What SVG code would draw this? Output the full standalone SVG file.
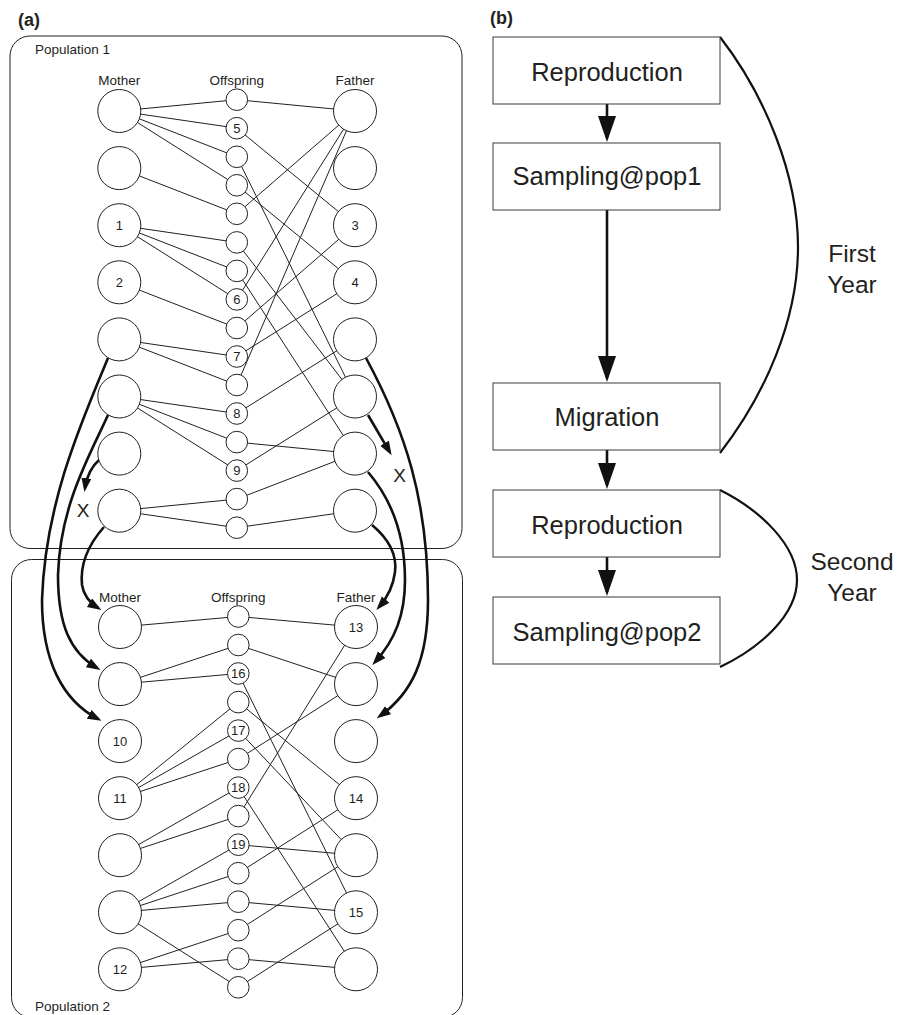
<svg xmlns="http://www.w3.org/2000/svg" width="909" height="1015" viewBox="0 0 909 1015">
<style>
text{font-family:"Liberation Sans",Arial,sans-serif;fill:#231f20}
.ttl{font-size:18px;font-weight:bold}
.hd{font-size:13.5px;text-anchor:middle}
.pop{font-size:13.5px}
.num{font-size:13px;text-anchor:middle}
.x{font-size:19px;text-anchor:middle}
.bx{font-size:25.5px;text-anchor:middle}
.yr{font-size:24.5px;text-anchor:middle}
.big{fill:#fff;stroke:#231f20;stroke-width:1}
.sm{fill:#fff;stroke:#231f20;stroke-width:1}
.frame{fill:none;stroke:#231f20;stroke-width:1}
.box{fill:#fff;stroke:#3a3a3a;stroke-width:1}
.ln{stroke:#231f20;stroke-width:1}
.mig{fill:none;stroke:#111;stroke-width:2.6;marker-end:url(#ah)}
.flow{fill:none;stroke:#111;stroke-width:2.6;marker-end:url(#ahb)}
.brk{fill:none;stroke:#111;stroke-width:2.2}
</style>
<defs>
<marker id="ah" markerUnits="userSpaceOnUse" markerWidth="16" markerHeight="12" refX="10" refY="5" orient="auto"><path d="M0,0 L14,5 L0,10 z" fill="#111"/></marker>
<marker id="ahb" markerUnits="userSpaceOnUse" markerWidth="28" markerHeight="20" refX="22" refY="9" orient="auto"><path d="M0,0 L26,9 L0,18 z" fill="#111"/></marker>
</defs>
<rect width="909" height="1015" fill="#fff"/>

<text class="ttl" x="18" y="26">(a)</text>
<text class="ttl" x="490" y="24">(b)</text>

<g id="population1">
<rect class="frame" x="10" y="36" width="452" height="512.5" rx="20"/>
<text class="pop" x="35" y="54">Population 1</text>
<text class="hd" x="119.3" y="85">Mother</text>
<text class="hd" x="236.8" y="85">Offspring</text>
<text class="hd" x="355" y="85">Father</text>
</g>
<g id="population2">
<rect class="frame" x="11.5" y="559.5" width="451" height="458" rx="20"/>
<text class="pop" x="35" y="1010.5">Population 2</text>
<text class="hd" x="120" y="602">Mother</text>
<text class="hd" x="238.3" y="602">Offspring</text>
<text class="hd" x="356" y="602">Father</text>
</g>

<g id="connectors">
<!-- population 1: mother - offspring -->
<line class="ln" x1="119.3" y1="111" x2="236.8" y2="99.7"/>
<line class="ln" x1="119.3" y1="111" x2="236.8" y2="128.2"/>
<line class="ln" x1="119.3" y1="111" x2="236.8" y2="156.8"/>
<line class="ln" x1="119.3" y1="111" x2="236.8" y2="185.3"/>
<line class="ln" x1="119.3" y1="168.1" x2="236.8" y2="213.8"/>
<line class="ln" x1="119.3" y1="225.2" x2="236.8" y2="242.4"/>
<line class="ln" x1="119.3" y1="225.2" x2="236.8" y2="270.9"/>
<line class="ln" x1="119.3" y1="225.2" x2="236.8" y2="299.4"/>
<line class="ln" x1="119.3" y1="282.3" x2="236.8" y2="328"/>
<line class="ln" x1="119.3" y1="339.4" x2="236.8" y2="356.5"/>
<line class="ln" x1="119.3" y1="339.4" x2="236.8" y2="385"/>
<line class="ln" x1="119.3" y1="396.5" x2="236.8" y2="413.5"/>
<line class="ln" x1="119.3" y1="396.5" x2="236.8" y2="442.1"/>
<line class="ln" x1="119.3" y1="396.5" x2="236.8" y2="470.6"/>
<line class="ln" x1="119.3" y1="510.7" x2="236.8" y2="499.1"/>
<line class="ln" x1="119.3" y1="510.7" x2="236.8" y2="527.7"/>
<!-- population 1: offspring - father -->
<line class="ln" x1="236.8" y1="99.7" x2="355" y2="111"/>
<line class="ln" x1="236.8" y1="213.8" x2="355" y2="111"/>
<line class="ln" x1="236.8" y1="299.4" x2="355" y2="111"/>
<line class="ln" x1="236.8" y1="385" x2="355" y2="111"/>
<line class="ln" x1="236.8" y1="128.2" x2="355" y2="225.2"/>
<line class="ln" x1="236.8" y1="328" x2="355" y2="225.2"/>
<line class="ln" x1="236.8" y1="185.3" x2="355" y2="282.3"/>
<line class="ln" x1="236.8" y1="356.5" x2="355" y2="282.3"/>
<line class="ln" x1="236.8" y1="413.5" x2="355" y2="339.4"/>
<line class="ln" x1="236.8" y1="156.8" x2="355" y2="396.5"/>
<line class="ln" x1="236.8" y1="242.4" x2="355" y2="396.5"/>
<line class="ln" x1="236.8" y1="470.6" x2="355" y2="396.5"/>
<line class="ln" x1="236.8" y1="270.9" x2="355" y2="453.6"/>
<line class="ln" x1="236.8" y1="442.1" x2="355" y2="453.6"/>
<line class="ln" x1="236.8" y1="499.1" x2="355" y2="453.6"/>
<line class="ln" x1="236.8" y1="527.7" x2="355" y2="510.7"/>
<!-- population 2: mother - offspring -->
<line class="ln" x1="120" y1="627" x2="238.3" y2="616.5"/>
<line class="ln" x1="120" y1="684.1" x2="238.3" y2="645"/>
<line class="ln" x1="120" y1="684.1" x2="238.3" y2="673.5"/>
<line class="ln" x1="120" y1="798.2" x2="238.3" y2="702.1"/>
<line class="ln" x1="120" y1="798.2" x2="238.3" y2="730.6"/>
<line class="ln" x1="120" y1="798.2" x2="238.3" y2="759.1"/>
<line class="ln" x1="120" y1="855.2" x2="238.3" y2="787.6"/>
<line class="ln" x1="120" y1="855.2" x2="238.3" y2="816.1"/>
<line class="ln" x1="120" y1="912.3" x2="238.3" y2="844.7"/>
<line class="ln" x1="120" y1="912.3" x2="238.3" y2="873.2"/>
<line class="ln" x1="120" y1="912.3" x2="238.3" y2="901.7"/>
<line class="ln" x1="120" y1="912.3" x2="238.3" y2="987.3"/>
<line class="ln" x1="120" y1="969.3" x2="238.3" y2="930.2"/>
<line class="ln" x1="120" y1="969.3" x2="238.3" y2="958.7"/>
<!-- population 2: offspring - father -->
<line class="ln" x1="238.3" y1="616.5" x2="356" y2="627"/>
<line class="ln" x1="238.3" y1="816.1" x2="356" y2="627"/>
<line class="ln" x1="238.3" y1="645" x2="356" y2="684.1"/>
<line class="ln" x1="238.3" y1="759.1" x2="356" y2="684.1"/>
<line class="ln" x1="238.3" y1="702.1" x2="356" y2="798.2"/>
<line class="ln" x1="238.3" y1="873.2" x2="356" y2="798.2"/>
<line class="ln" x1="238.3" y1="730.6" x2="356" y2="855.2"/>
<line class="ln" x1="238.3" y1="844.7" x2="356" y2="855.2"/>
<line class="ln" x1="238.3" y1="930.2" x2="356" y2="855.2"/>
<line class="ln" x1="238.3" y1="673.5" x2="356" y2="912.3"/>
<line class="ln" x1="238.3" y1="901.7" x2="356" y2="912.3"/>
<line class="ln" x1="238.3" y1="987.3" x2="356" y2="912.3"/>
<line class="ln" x1="238.3" y1="787.6" x2="356" y2="969.3"/>
<line class="ln" x1="238.3" y1="958.7" x2="356" y2="969.3"/>
<!-- migration arrows -->
<path class="mig" d="M108,358 C80,425 45,505 42,600 C42,660 62,700 98,719"/>
<path class="mig" d="M108,415 C90,455 60,505 58,575 C58,625 70,652 97,668"/>
<path class="mig" d="M100,459 C92,466 87,474 85,488"/>
<path class="mig" d="M104,527 C88,545 80,565 82,585 C84,597 90,603 98,608"/>
<path class="mig" d="M366,358 C405,430 428,500 428,600 C428,660 412,693 380,716"/>
<path class="mig" d="M368,415 L389.6,451.8"/>
<path class="mig" d="M368,472 C392,500 405,535 405,580 C405,615 395,640 375,662"/>
<path class="mig" d="M372,525 C390,540 397,556 395,572 C393,588 387,598 379,607"/>
<!-- panel b flow -->
<path class="flow" d="M607,104 L607,138"/>
<path class="flow" d="M607,210 L607,378"/>
<path class="flow" d="M607,450 L607,485"/>
<path class="flow" d="M607,557 L607,592"/>
<path class="brk" d="M720,37 C765,95 798,175 798,247 C798,320 765,395 720,453"/>
<path class="brk" d="M720,490 C760,510 797,545 797,580 C797,615 760,648 720,667"/>
</g>

<text class="x" x="83" y="517">X</text>
<text class="x" x="399.5" y="482">X</text>

<!-- population 1 nodes -->
<g id="p1-mother1"><circle class="big" cx="119.3" cy="111" r="21.5"/></g>
<g id="p1-mother2"><circle class="big" cx="119.3" cy="168.1" r="21.5"/></g>
<g id="p1-mother3"><circle class="big" cx="119.3" cy="225.2" r="21.5"/><text class="num" x="119.3" y="229.7">1</text></g>
<g id="p1-mother4"><circle class="big" cx="119.3" cy="282.3" r="21.5"/><text class="num" x="119.3" y="286.8">2</text></g>
<g id="p1-mother5"><circle class="big" cx="119.3" cy="339.4" r="21.5"/></g>
<g id="p1-mother6"><circle class="big" cx="119.3" cy="396.5" r="21.5"/></g>
<g id="p1-mother7"><circle class="big" cx="119.3" cy="453.6" r="21.5"/></g>
<g id="p1-mother8"><circle class="big" cx="119.3" cy="510.7" r="21.5"/></g>

<g id="p1-father1"><circle class="big" cx="355" cy="111" r="21.5"/></g>
<g id="p1-father2"><circle class="big" cx="355" cy="168.1" r="21.5"/></g>
<g id="p1-father3"><circle class="big" cx="355" cy="225.2" r="21.5"/><text class="num" x="355" y="229.7">3</text></g>
<g id="p1-father4"><circle class="big" cx="355" cy="282.3" r="21.5"/><text class="num" x="355" y="286.8">4</text></g>
<g id="p1-father5"><circle class="big" cx="355" cy="339.4" r="21.5"/></g>
<g id="p1-father6"><circle class="big" cx="355" cy="396.5" r="21.5"/></g>
<g id="p1-father7"><circle class="big" cx="355" cy="453.6" r="21.5"/></g>
<g id="p1-father8"><circle class="big" cx="355" cy="510.7" r="21.5"/></g>

<g id="p1-off1"><circle class="sm" cx="236.8" cy="99.7" r="10.8"/></g>
<g id="p1-off2"><circle class="sm" cx="236.8" cy="128.2" r="10.8"/><text class="num" x="236.8" y="132.7">5</text></g>
<g id="p1-off3"><circle class="sm" cx="236.8" cy="156.8" r="10.8"/></g>
<g id="p1-off4"><circle class="sm" cx="236.8" cy="185.3" r="10.8"/></g>
<g id="p1-off5"><circle class="sm" cx="236.8" cy="213.8" r="10.8"/></g>
<g id="p1-off6"><circle class="sm" cx="236.8" cy="242.4" r="10.8"/></g>
<g id="p1-off7"><circle class="sm" cx="236.8" cy="270.9" r="10.8"/></g>
<g id="p1-off8"><circle class="sm" cx="236.8" cy="299.4" r="10.8"/><text class="num" x="236.8" y="303.9">6</text></g>
<g id="p1-off9"><circle class="sm" cx="236.8" cy="328" r="10.8"/></g>
<g id="p1-off10"><circle class="sm" cx="236.8" cy="356.5" r="10.8"/><text class="num" x="236.8" y="361">7</text></g>
<g id="p1-off11"><circle class="sm" cx="236.8" cy="385" r="10.8"/></g>
<g id="p1-off12"><circle class="sm" cx="236.8" cy="413.5" r="10.8"/><text class="num" x="236.8" y="418">8</text></g>
<g id="p1-off13"><circle class="sm" cx="236.8" cy="442.1" r="10.8"/></g>
<g id="p1-off14"><circle class="sm" cx="236.8" cy="470.6" r="10.8"/><text class="num" x="236.8" y="475.1">9</text></g>
<g id="p1-off15"><circle class="sm" cx="236.8" cy="499.1" r="10.8"/></g>
<g id="p1-off16"><circle class="sm" cx="236.8" cy="527.7" r="10.8"/></g>

<!-- population 2 nodes -->
<g id="p2-mother1"><circle class="big" cx="120" cy="627" r="21.5"/></g>
<g id="p2-mother2"><circle class="big" cx="120" cy="684.1" r="21.5"/></g>
<g id="p2-mother3"><circle class="big" cx="120" cy="741.1" r="21.5"/><text class="num" x="120" y="745.6">10</text></g>
<g id="p2-mother4"><circle class="big" cx="120" cy="798.2" r="21.5"/><text class="num" x="120" y="802.7">11</text></g>
<g id="p2-mother5"><circle class="big" cx="120" cy="855.2" r="21.5"/></g>
<g id="p2-mother6"><circle class="big" cx="120" cy="912.3" r="21.5"/></g>
<g id="p2-mother7"><circle class="big" cx="120" cy="969.3" r="21.5"/><text class="num" x="120" y="973.8">12</text></g>

<g id="p2-father1"><circle class="big" cx="356" cy="627" r="21.5"/><text class="num" x="356" y="631.5">13</text></g>
<g id="p2-father2"><circle class="big" cx="356" cy="684.1" r="21.5"/></g>
<g id="p2-father3"><circle class="big" cx="356" cy="741.1" r="21.5"/></g>
<g id="p2-father4"><circle class="big" cx="356" cy="798.2" r="21.5"/><text class="num" x="356" y="802.7">14</text></g>
<g id="p2-father5"><circle class="big" cx="356" cy="855.2" r="21.5"/></g>
<g id="p2-father6"><circle class="big" cx="356" cy="912.3" r="21.5"/><text class="num" x="356" y="916.8">15</text></g>
<g id="p2-father7"><circle class="big" cx="356" cy="969.3" r="21.5"/></g>

<g id="p2-off1"><circle class="sm" cx="238.3" cy="616.5" r="10.8"/></g>
<g id="p2-off2"><circle class="sm" cx="238.3" cy="645" r="10.8"/></g>
<g id="p2-off3"><circle class="sm" cx="238.3" cy="673.5" r="10.8"/><text class="num" x="238.3" y="678">16</text></g>
<g id="p2-off4"><circle class="sm" cx="238.3" cy="702.1" r="10.8"/></g>
<g id="p2-off5"><circle class="sm" cx="238.3" cy="730.6" r="10.8"/><text class="num" x="238.3" y="735.1">17</text></g>
<g id="p2-off6"><circle class="sm" cx="238.3" cy="759.1" r="10.8"/></g>
<g id="p2-off7"><circle class="sm" cx="238.3" cy="787.6" r="10.8"/><text class="num" x="238.3" y="792.1">18</text></g>
<g id="p2-off8"><circle class="sm" cx="238.3" cy="816.1" r="10.8"/></g>
<g id="p2-off9"><circle class="sm" cx="238.3" cy="844.7" r="10.8"/><text class="num" x="238.3" y="849.2">19</text></g>
<g id="p2-off10"><circle class="sm" cx="238.3" cy="873.2" r="10.8"/></g>
<g id="p2-off11"><circle class="sm" cx="238.3" cy="901.7" r="10.8"/></g>
<g id="p2-off12"><circle class="sm" cx="238.3" cy="930.2" r="10.8"/></g>
<g id="p2-off13"><circle class="sm" cx="238.3" cy="958.7" r="10.8"/></g>
<g id="p2-off14"><circle class="sm" cx="238.3" cy="987.3" r="10.8"/></g>

<!-- panel b -->
<g id="b-reproduction1"><rect class="box" x="493" y="37" width="227" height="67"/><text class="bx" x="607" y="81">Reproduction</text></g>
<g id="b-sampling1"><rect class="box" x="493" y="143" width="227" height="67"/><text class="bx" x="607" y="185">Sampling@pop1</text></g>
<g id="b-migration"><rect class="box" x="493" y="383" width="227" height="67"/><text class="bx" x="607" y="426">Migration</text></g>
<g id="b-reproduction2"><rect class="box" x="493" y="490" width="227" height="67"/><text class="bx" x="607" y="533.5">Reproduction</text></g>
<g id="b-sampling2"><rect class="box" x="493" y="597" width="227" height="67"/><text class="bx" x="607" y="641">Sampling@pop2</text></g>
<g id="b-first-year"><text class="yr" x="852" y="262">First</text><text class="yr" x="852" y="293">Year</text></g>
<g id="b-second-year"><text class="yr" x="852" y="570">Second</text><text class="yr" x="852" y="601">Year</text></g>
</svg>
